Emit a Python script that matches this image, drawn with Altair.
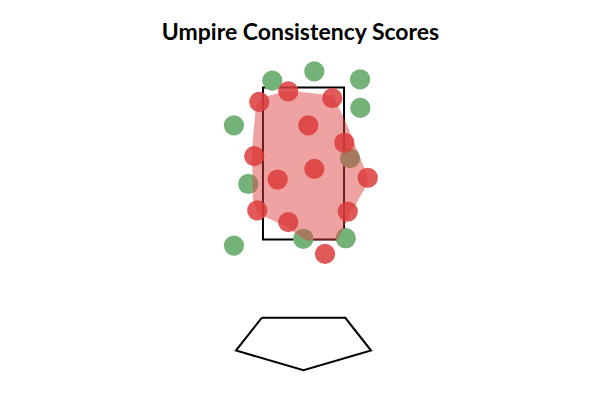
import altair as alt
import pandas as pd

# Pitch locations (feet from plate centre, height in feet)
ball_x = [-0.545, 0.189, 0.988, 0.993, -1.215, 0.813, -0.965, -1.215, -0.003, 0.738]
ball_z = [3.59, 3.71, 3.605, 3.23, 3.00, 2.57, 2.23, 1.42, 1.51, 1.517]

strike_x = [-0.773, -0.266, 0.503, 0.084, 0.713, -0.860, 0.189, -0.451, 1.122, -0.808, 0.773, -0.266, 0.376]
strike_z = [3.31, 3.447, 3.359, 3.00, 2.772, 2.596, 2.43, 2.289, 2.312, 1.882, 1.868, 1.728, 1.312]

# Called-strike region outline
hull_x = [-0.830, -0.656, -0.271, 0.516, 0.743, 1.093, 1.128, 0.813, 0.586, 0.044, -0.306, -0.795, -0.883, -0.900]
hull_z = [3.276, 3.382, 3.461, 3.395, 3.039, 2.382, 2.25, 1.829, 1.487, 1.487, 1.671, 1.842, 2.013, 2.671]

# Home plate outline
plate_x = [-0.73, 0.73, 1.18, 0.0, -1.18]
plate_z = [0.47, 0.47, 0.04, -0.22, 0.04]

# Strike zone
zone_left, zone_right = -0.708, 0.708
zone_bottom, zone_top = 1.5, 3.5

balls = pd.DataFrame({"x": ball_x, "z": ball_z})
strikes = pd.DataFrame({"x": strike_x, "z": strike_z})
hull = pd.DataFrame({"x": hull_x + hull_x[:1], "z": hull_z + hull_z[:1],
                     "i": list(range(len(hull_x) + 1))})
plate = pd.DataFrame({"x": plate_x + plate_x[:1], "z": plate_z + plate_z[:1],
                      "i": list(range(len(plate_x) + 1))})
zone = pd.DataFrame({"x": [zone_left], "x2": [zone_right], "z": [zone_bottom], "z2": [zone_top]})

xs = alt.Scale(domain=[-2, 2], nice=False, zero=False)
ys = alt.Scale(domain=[-0.4, 3.9], nice=False, zero=False)

X = alt.X("x:Q", scale=xs, axis=None)
Y = alt.Y("z:Q", scale=ys, axis=None)

zone_layer = alt.Chart(zone).mark_rect(fillOpacity=0, stroke="black", strokeWidth=2).encode(
    x=X, x2="x2:Q", y=Y, y2="z2:Q"
)

plate_layer = alt.Chart(plate).mark_line(stroke="black", strokeWidth=2, strokeJoin="miter").encode(
    x=X, y=Y, order="i:Q"
)

ball_layer = alt.Chart(balls).mark_circle(size=410, opacity=1, color="#75b27a").encode(x=X, y=Y)

hull_layer = alt.Chart(hull).mark_line(
    fill="#dc3c3c", fillOpacity=0.48, stroke="#dc3c3c", strokeOpacity=0.0, strokeWidth=0
).encode(x=X, y=Y, order="i:Q")

strike_layer = alt.Chart(strikes).mark_circle(size=410, opacity=0.85, color="#dc3c3c").encode(x=X, y=Y)

chart = alt.layer(zone_layer, plate_layer, ball_layer, hull_layer, strike_layer).properties(
    width=229,
    height=327,
    title=alt.TitleParams(
        "Umpire Consistency Scores",
        font="Lato",
        fontSize=23,
        fontWeight="bold",
        color="black",
        anchor="middle",
        offset=12,
        dx=-3,
    ),
    padding={"left": 189, "top": 57, "right": 182, "bottom": 16},
    autosize=alt.AutoSizeParams(type="none"),
).configure_view(stroke=None)

chart.save("out.html", embed_options={"renderer": "svg", "actions": False})
